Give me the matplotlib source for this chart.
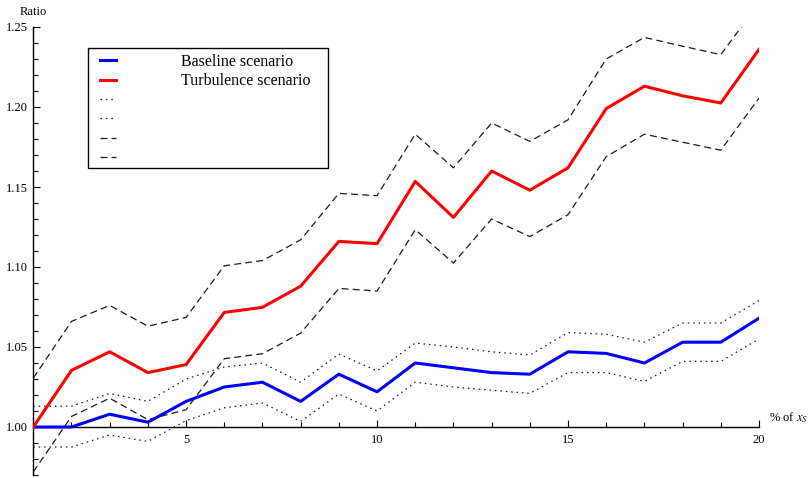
import matplotlib
matplotlib.use("Agg")
import matplotlib.pyplot as plt
from matplotlib.ticker import FixedLocator, MultipleLocator, FormatStrFormatter
from matplotlib.patches import Rectangle

x = list(range(1, 21))
baseline = [1.000, 1.000, 1.008, 1.003, 1.016, 1.025, 1.028, 1.016, 1.033, 1.022,
            1.040, 1.037, 1.034, 1.033, 1.047, 1.046, 1.040, 1.053, 1.053, 1.068]
baseline_hi = [1.013, 1.013, 1.021, 1.016, 1.030, 1.0375, 1.040, 1.028, 1.0456, 1.035,
               1.0525, 1.050, 1.047, 1.045, 1.059, 1.058, 1.053, 1.065, 1.065, 1.079]
baseline_lo = [0.9875, 0.9875, 0.995, 0.991, 1.004, 1.012, 1.015, 1.0035, 1.0206, 1.010,
               1.028, 1.025, 1.023, 1.021, 1.034, 1.034, 1.0285, 1.041, 1.041, 1.055]
turb = [1.000, 1.0354, 1.047, 1.034, 1.039, 1.0716, 1.0748, 1.088, 1.116, 1.1146,
        1.1535, 1.131, 1.160, 1.148, 1.162, 1.199, 1.213, 1.207, 1.2025, 1.236]
turb_hi = [1.0306, 1.066, 1.076, 1.063, 1.0685, 1.1008, 1.104, 1.117, 1.146, 1.1446,
           1.183, 1.162, 1.190, 1.1785, 1.192, 1.230, 1.2435, 1.238, 1.2327, 1.265]
turb_lo = [0.972, 1.0066, 1.018, 1.0046, 1.0108, 1.0427, 1.0458, 1.0587, 1.0866, 1.085,
           1.1233, 1.1025, 1.130, 1.119, 1.1327, 1.169, 1.183, 1.178, 1.173, 1.2056]

legend_labels = ["Baseline scenario", "Turbulence scenario", "", "", "", ""]
x_major = [5, 10, 15, 20]
y_major = [1.00, 1.05, 1.10, 1.15, 1.20, 1.25]

plt.rcParams['font.family'] = ['Liberation Serif', 'DejaVu Serif']
plt.rcParams['mathtext.fontset'] = 'stix'
plt.rcParams['lines.scale_dashes'] = False

W, H = 809, 478
fig = plt.figure(figsize=(W / 100, H / 100), dpi=100)
ax = fig.add_axes([33.3 / W, 1 - 475 / H, (759 - 33.3) / W, (475 - 27) / H])

dash_c = '#1a1a1a'
dotted = (0, (1.1, 2.8))
dashed = (0, (5, 3))

l1, = ax.plot(x, baseline, color='#0000ff', lw=2.2, zorder=4)
l2, = ax.plot(x, turb, color='#ff0000', lw=2.2, zorder=4)
l3, = ax.plot(x, baseline_hi, color=dash_c, lw=0.9, linestyle=dotted)
l4, = ax.plot(x, baseline_lo, color=dash_c, lw=0.9, linestyle=dotted)
l5, = ax.plot(x, turb_hi, color=dash_c, lw=0.9, linestyle=dashed)
l6, = ax.plot(x, turb_lo, color=dash_c, lw=0.9, linestyle=dashed)

ax.set_xlim(1, 20)
ax.set_ylim(0.97, 1.25)

for s in ['top', 'right']:
    ax.spines[s].set_visible(False)
ax.spines['bottom'].set_position(('data', 1.0))
ax.spines['bottom'].set_linewidth(1.0)
ax.spines['left'].set_linewidth(1.0)

ax.xaxis.set_major_locator(FixedLocator(x_major))
ax.xaxis.set_minor_locator(MultipleLocator(1))
ax.yaxis.set_major_locator(FixedLocator(y_major))
ax.yaxis.set_minor_locator(MultipleLocator(0.01))
ax.yaxis.set_major_formatter(FormatStrFormatter('%.2f'))

ax.tick_params(which='both', direction='in', width=0.8, labelsize=9, pad=4)
ax.tick_params(which='major', length=5.2)
ax.tick_params(which='minor', length=3.4)
ax.tick_params(axis='x', which='major', pad=5)

fig.text(33.7 / W, 1 - 12.3 / H, 'Ratio', ha='center', va='center', fontsize=9)
fig.text(769 / W, 1 - 418 / H, r'% of $x_S$', ha='left', va='center', fontsize=9)

# legend frame
frame = Rectangle((88.3 / W, 1 - 167.7 / H), (328.3 - 88.3) / W, (167.7 - 48.3) / H,
                  transform=fig.transFigure, fill=True, facecolor='white',
                  edgecolor='black', linewidth=1.0, zorder=5, clip_on=False)
ax.add_artist(frame)

leg = ax.legend([l1, l2, l3, l4, l5, l6], legend_labels,
                loc='upper left', bbox_to_anchor=(100 / W, 1 - 54 / H),
                bbox_transform=fig.transFigure,
                prop={'family': 'Liberation Serif', 'size': 11.5},
                frameon=False, handlelength=1.0, handletextpad=4.1, borderpad=0,
                labelspacing=0.21, borderaxespad=0)
leg.set_zorder(6)

fig.savefig('out.png', dpi=100)
